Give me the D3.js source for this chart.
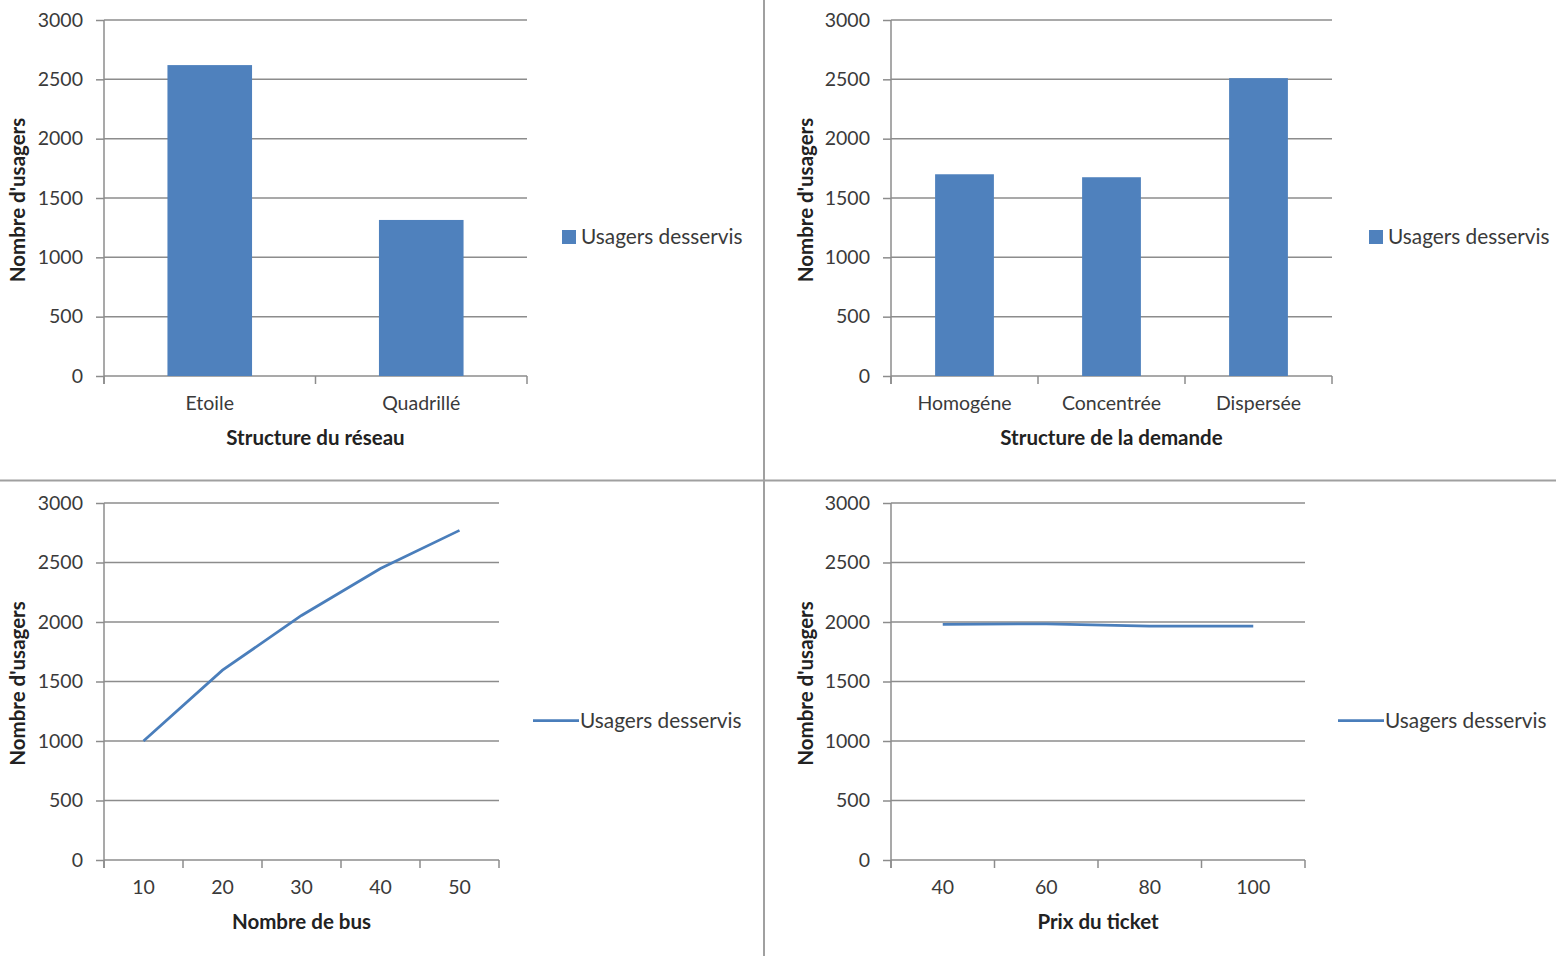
<!DOCTYPE html>
<meta charset="utf-8">
<style>
body { margin: 0; background: #fff; }
svg text { font-family: Lato, "Open Sans", sans-serif; fill: #3a3a3a; }
.grid line { stroke: #8c8c8c; stroke-width: 1.5px; }
.axis path, .axis line { stroke: #8c8c8c; stroke-width: 1.5px; }
.axis text { font-size: 19.5px; fill: #3a3a3a; }
.title { font-size: 20.5px; font-weight: bold; fill: #222; }
.legend { font-size: 20.8px; }
</style>
<svg width="1564" height="956"></svg>
<script src="https://cdnjs.cloudflare.com/ajax/libs/d3/7.8.5/d3.min.js"></script>
<script>

var seriesName = "Usagers desservis",
    yTitle = "Nombre d'usagers",
    yTicks = [0, 500, 1000, 1500, 2000, 2500, 3000];

var reseauCats = ["Etoile", "Quadrillé"],
    reseauVals = [2620, 1315];

var demandeCats = ["Homogéne", "Concentrée", "Dispersée"],
    demandeVals = [1700, 1675, 2510];

var busCats = [10, 20, 30, 40, 50],
    busVals = [1000, 1595, 2055, 2450, 2770];

var prixCats = [40, 60, 80, 100],
    prixVals = [1980, 1985, 1965, 1965];

var blue = "#4f81bd";

var svg = d3.select("svg");

// dividers between the four charts
svg.append("line").attr("x1", 764).attr("x2", 764).attr("y1", 0).attr("y2", 956)
    .attr("stroke", "#a0a0a0").attr("stroke-width", 2);
svg.append("line").attr("x1", 0).attr("x2", 1556).attr("y1", 480.5).attr("y2", 480.5)
    .attr("stroke", "#a0a0a0").attr("stroke-width", 2);

var panels = [
  {cats: reseauCats, vals: reseauVals, type: "bar", xTitle: "Structure du réseau",
   x0: 104, x1: 527, top: 20, bottom: 376, yTitleX: 18, legendX: 562},
  {cats: demandeCats, vals: demandeVals, type: "bar", xTitle: "Structure de la demande",
   x0: 891, x1: 1332, top: 20, bottom: 376, yTitleX: 806, legendX: 1369},
  {cats: busCats, vals: busVals, type: "line", xTitle: "Nombre de bus",
   x0: 104, x1: 499, top: 503, bottom: 860, yTitleX: 18, legendX: 533},
  {cats: prixCats, vals: prixVals, type: "line", xTitle: "Prix du ticket",
   x0: 891, x1: 1305, top: 503, bottom: 860, yTitleX: 806, legendX: 1338}
];

panels.forEach(function(p) {
  var g = svg.append("g");

  var y = d3.scaleLinear().domain([0, 3000]).range([p.bottom, p.top]);
  var x = d3.scaleBand().domain(p.cats).range([p.x0, p.x1]).padding(0);

  // horizontal gridlines
  g.append("g").attr("class", "grid")
    .selectAll("line")
    .data(yTicks.filter(function(d) { return d > 0; }))
    .enter().append("line")
      .attr("x1", p.x0).attr("x2", p.x1)
      .attr("y1", function(d) { return y(d); })
      .attr("y2", function(d) { return y(d); });

  // y axis
  var ya = g.append("g").attr("class", "axis")
      .attr("transform", "translate(" + p.x0 + ",0)")
      .call(d3.axisLeft(y).tickValues(yTicks).tickFormat(d3.format("d"))
        .tickSize(8).tickPadding(13).tickSizeOuter(0));
  ya.select(".domain").attr("d", "M0," + (p.top) + "V" + (p.bottom + 8));

  // x axis with ticks at category boundaries
  var xa = g.append("g").attr("class", "axis")
      .attr("transform", "translate(0," + p.bottom + ")");
  xa.append("line").attr("x1", p.x0).attr("x2", p.x1).attr("y1", 0).attr("y2", 0);
  var bounds = p.cats.map(function(c) { return x(c); }).concat([p.x1]);
  xa.selectAll("line.tk").data(bounds).enter().append("line").attr("class", "tk")
      .attr("x1", function(d) { return d; }).attr("x2", function(d) { return d; })
      .attr("y1", 0).attr("y2", 8);
  xa.selectAll("text").data(p.cats).enter().append("text")
      .attr("x", function(d) { return x(d) + x.bandwidth() / 2; })
      .attr("y", 34)
      .attr("text-anchor", "middle")
      .text(function(d) { return d; });

  if (p.type === "bar") {
    var bw = x.bandwidth() * 0.4;
    g.selectAll("rect.bar").data(p.cats).enter().append("rect")
        .attr("class", "bar")
        .attr("x", function(d) { return x(d) + (x.bandwidth() - bw) / 2; })
        .attr("width", bw)
        .attr("y", function(d, i) { return y(p.vals[i]); })
        .attr("height", function(d, i) { return y(0) - y(p.vals[i]); })
        .attr("fill", blue);
  } else {
    var line = d3.line()
        .x(function(d, i) { return x(p.cats[i]) + x.bandwidth() / 2; })
        .y(function(d) { return y(d); });
    g.append("path").datum(p.vals)
        .attr("d", line)
        .attr("fill", "none")
        .attr("stroke", "#4a7ebb")
        .attr("stroke-width", 2.75);
  }

  // titles
  g.append("text").attr("class", "title")
      .attr("x", (p.x0 + p.x1) / 2).attr("y", p.bottom + 69)
      .attr("text-anchor", "middle")
      .text(p.xTitle);
  g.append("text").attr("class", "title")
      .attr("transform", "translate(" + (p.yTitleX + 7) + "," + ((p.top + p.bottom) / 2 + 2) + ") rotate(-90)")
      .attr("text-anchor", "middle")
      .text(yTitle);

  // legend
  var ly = (p.top + p.bottom) / 2 + 39;
  if (p.type === "bar") {
    g.append("rect").attr("x", p.legendX).attr("y", ly - 7).attr("width", 14).attr("height", 14)
        .attr("fill", blue);
    g.append("text").attr("class", "legend").attr("x", p.legendX + 19).attr("y", ly + 7).text(seriesName);
  } else {
    g.append("line").attr("x1", p.legendX).attr("x2", p.legendX + 46)
        .attr("y1", ly).attr("y2", ly)
        .attr("stroke", "#4a7ebb").attr("stroke-width", 2.75);
    g.append("text").attr("class", "legend").attr("x", p.legendX + 47).attr("y", ly + 7).text(seriesName);
  }
});

</script>
